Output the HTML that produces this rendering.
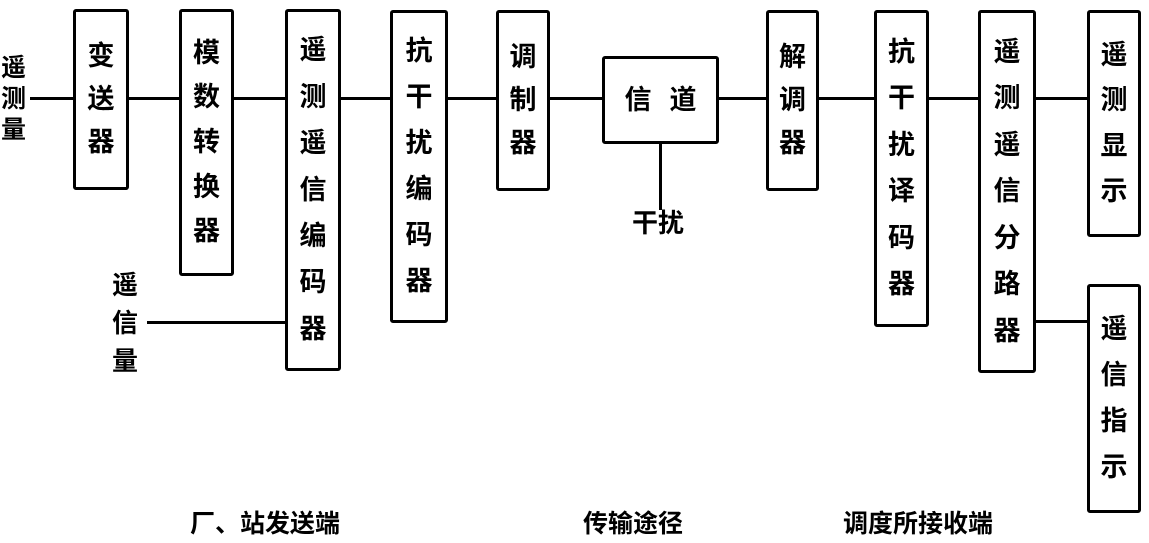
<!DOCTYPE html>
<html><head><meta charset="utf-8"><style>
body{margin:0;width:1149px;height:543px;background:#fff;position:relative;overflow:hidden;font-family:"Liberation Sans","Noto Sans CJK SC",sans-serif;font-weight:bold;color:#000}
.b{position:absolute;border:3px solid #000;border-radius:3px;box-sizing:border-box;display:flex;flex-direction:column;align-items:center;justify-content:space-evenly;font-size:27px;line-height:1}
.h{position:absolute;height:3px;background:#000}
.v{position:absolute;width:3px;background:#000}
.t{position:absolute;font-size:26px;line-height:1}
.vt{display:flex;flex-direction:column;align-items:center;gap:14px}
</style></head><body>
<div class="b" style="left:73px;top:9px;width:56px;height:181px;padding:15px 0"><span>变</span><span>送</span><span>器</span></div>
<div class="b" style="left:179px;top:9px;width:55px;height:267px;padding:10px 0"><span>模</span><span>数</span><span>转</span><span>换</span><span>器</span></div>
<div class="b" style="left:285px;top:9px;width:56px;height:362px;padding:6px 0"><span>遥</span><span>测</span><span>遥</span><span>信</span><span>编</span><span>码</span><span>器</span></div>
<div class="b" style="left:390px;top:10px;width:58px;height:313px;padding:6px 0"><span>抗</span><span>干</span><span>扰</span><span>编</span><span>码</span><span>器</span></div>
<div class="b" style="left:496px;top:10px;width:54px;height:181px;padding:15px 0"><span>调</span><span>制</span><span>器</span></div>
<div class="b" style="left:602px;top:56px;width:117px;height:88px;flex-direction:row;justify-content:center;gap:18px"><span>信</span><span>道</span></div>
<div class="b" style="left:766px;top:10px;width:53px;height:181px;padding:15px 0"><span>解</span><span>调</span><span>器</span></div>
<div class="b" style="left:874px;top:10px;width:55px;height:317px;padding:6px 0"><span>抗</span><span>干</span><span>扰</span><span>译</span><span>码</span><span>器</span></div>
<div class="b" style="left:978px;top:10px;width:58px;height:363px;padding:6px 0"><span>遥</span><span>测</span><span>遥</span><span>信</span><span>分</span><span>路</span><span>器</span></div>
<div class="b" style="left:1087px;top:10px;width:54px;height:227px;padding:10px 0"><span>遥</span><span>测</span><span>显</span><span>示</span></div>
<div class="b" style="left:1087px;top:284px;width:54px;height:229px;padding:10px 0"><span>遥</span><span>信</span><span>指</span><span>示</span></div>

<div class="h" style="left:30px;top:97px;width:43px"></div>
<div class="h" style="left:129px;top:97px;width:50px"></div>
<div class="h" style="left:234px;top:97px;width:51px"></div>
<div class="h" style="left:341px;top:97px;width:49px"></div>
<div class="h" style="left:448px;top:97px;width:48px"></div>
<div class="h" style="left:550px;top:97px;width:52px"></div>
<div class="h" style="left:719px;top:97px;width:47px"></div>
<div class="h" style="left:819px;top:97px;width:55px"></div>
<div class="h" style="left:929px;top:97px;width:49px"></div>
<div class="h" style="left:1036px;top:97px;width:51px"></div>
<div class="h" style="left:1036px;top:320px;width:51px"></div>
<div class="h" style="left:147px;top:321px;width:138px"></div>
<div class="v" style="left:659px;top:144px;height:66px"></div>

<div class="t vt" style="left:1px;top:56px;font-size:25px;gap:6px"><span>遥</span><span>测</span><span>量</span></div>
<div class="t vt" style="left:112px;top:272px;gap:12px"><span>遥</span><span>信</span><span>量</span></div>
<div class="t" style="left:632px;top:210px">干扰</div>
<div class="t" style="left:190px;top:512px;font-size:25px">厂、站发送端</div>
<div class="t" style="left:583px;top:512px;font-size:25px">传输途径</div>
<div class="t" style="left:843px;top:512px;font-size:25px">调度所接收端</div>
</body></html>
